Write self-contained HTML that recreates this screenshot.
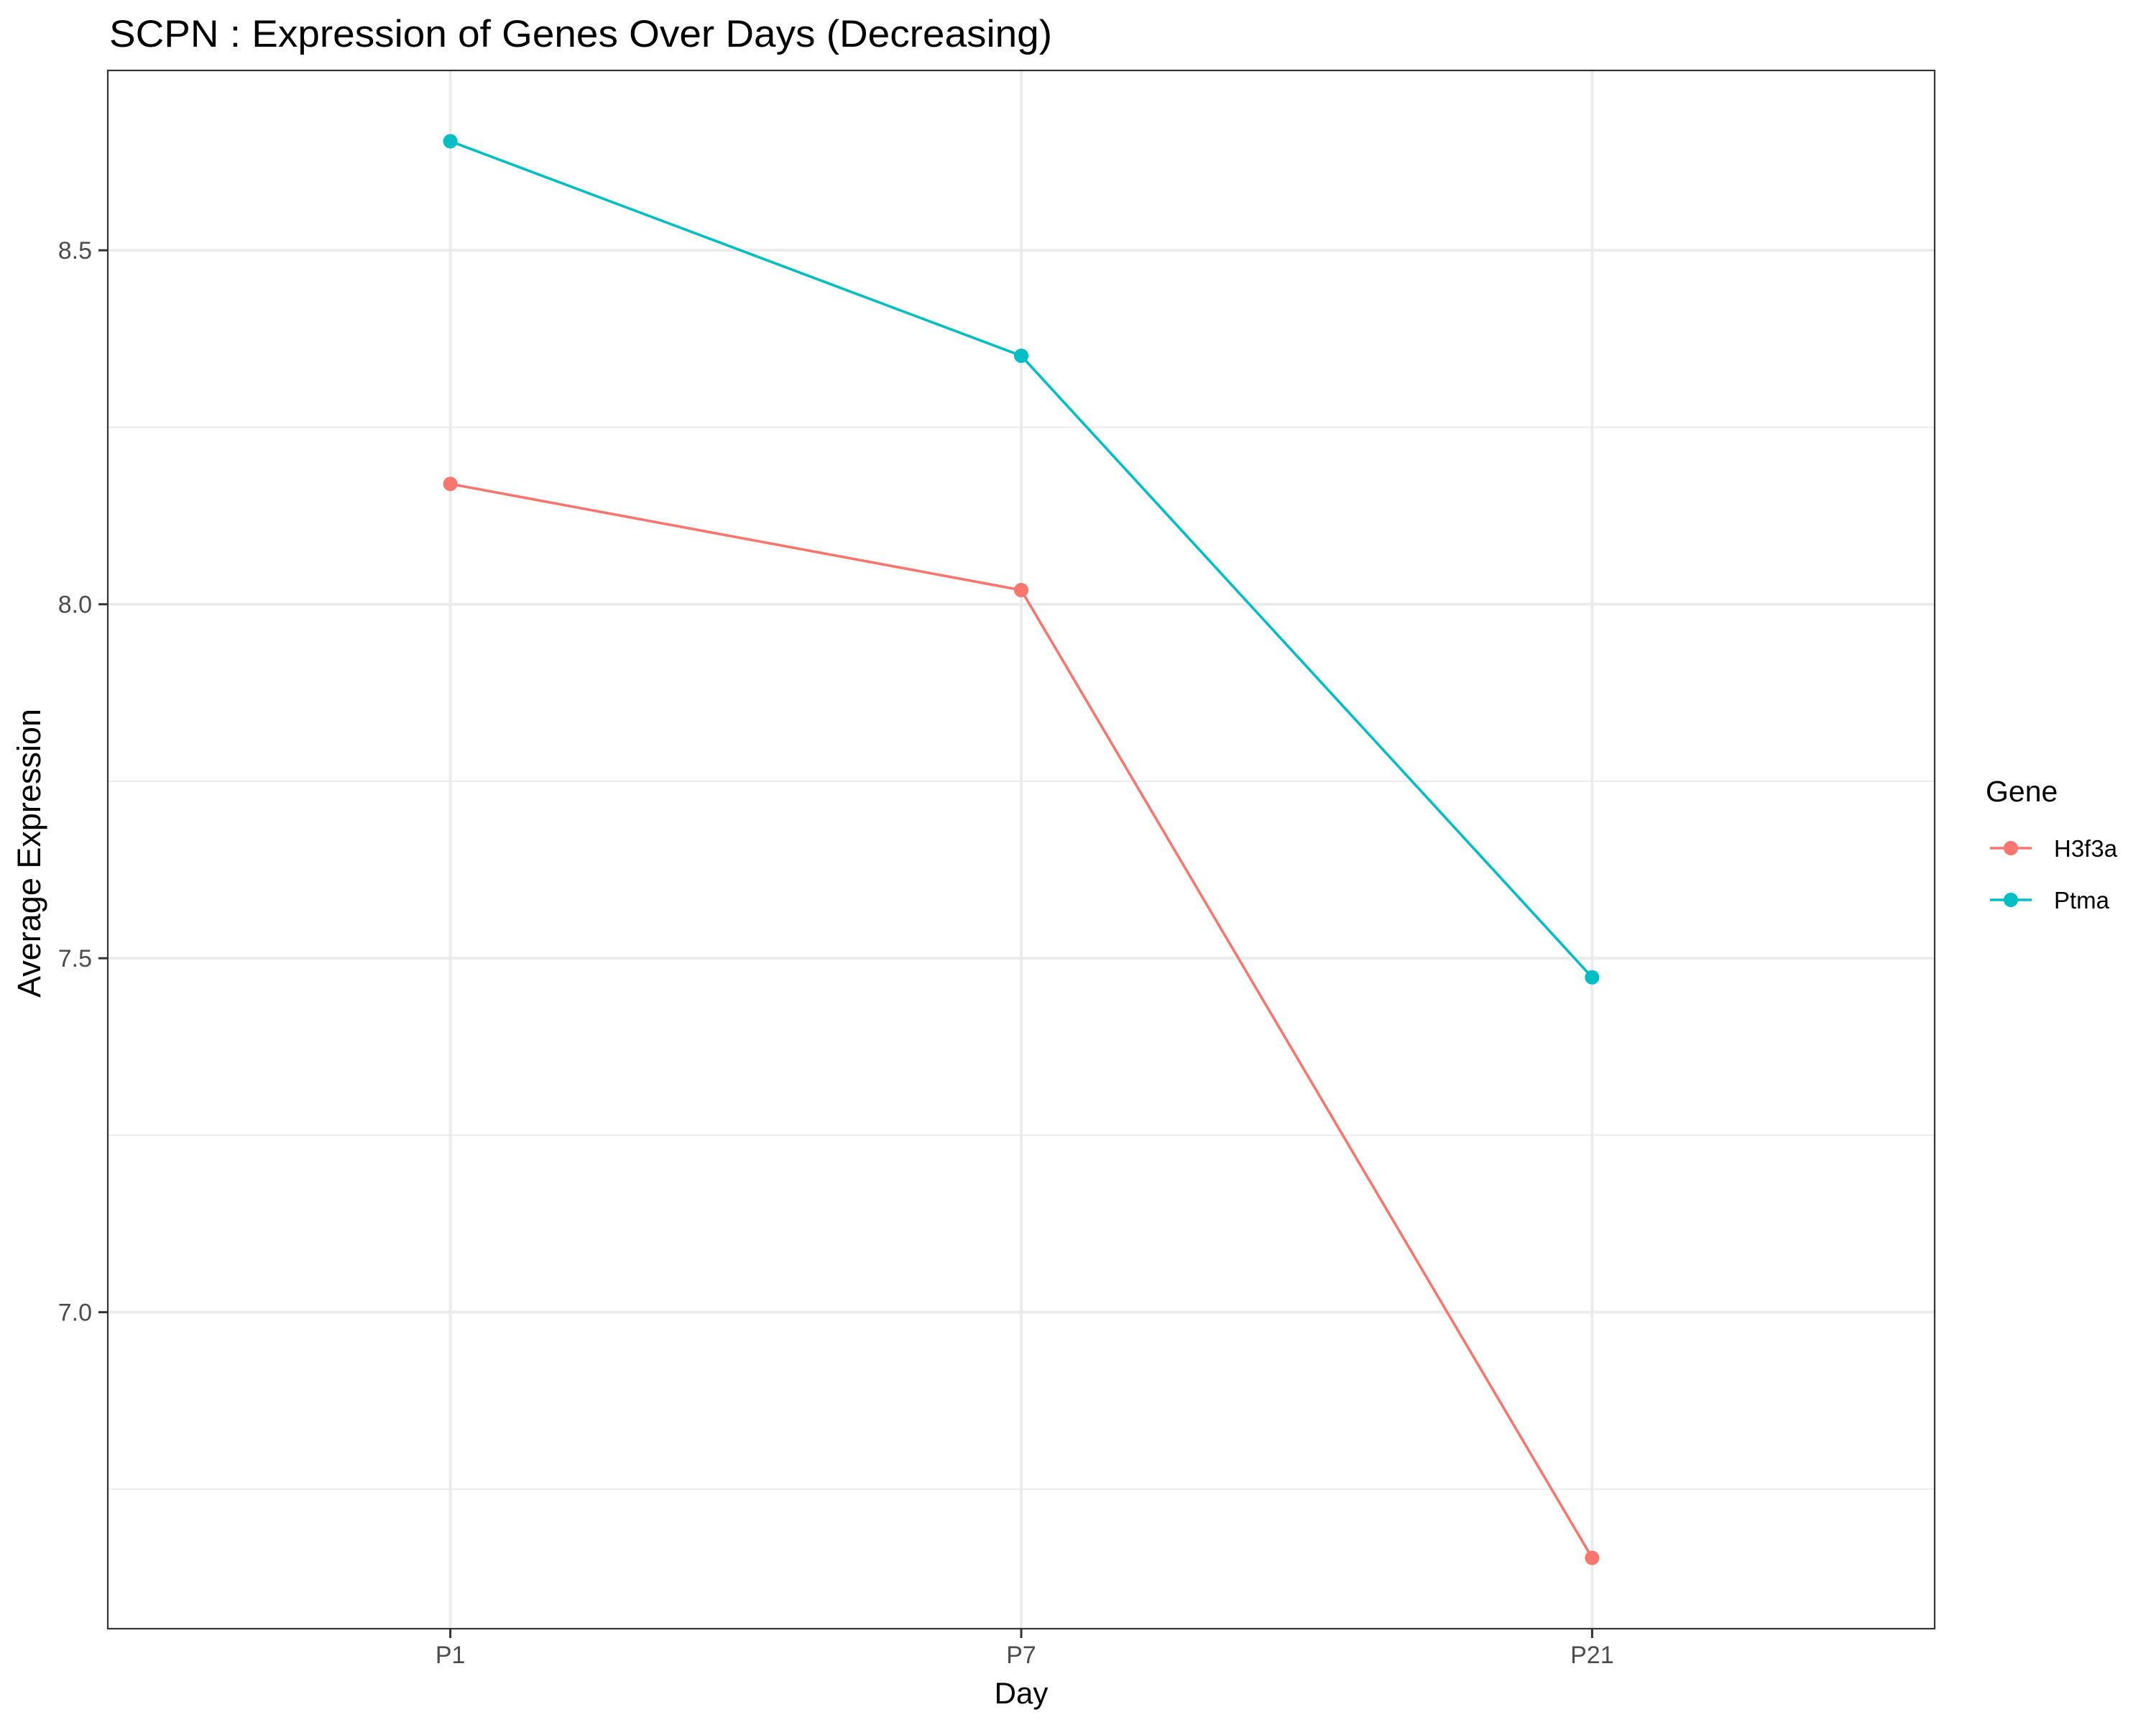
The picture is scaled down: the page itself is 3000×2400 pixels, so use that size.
<!DOCTYPE html>
<html><head><meta charset="utf-8"><style>
html,body{margin:0;padding:0;background:#fff;}
svg{display:block;font-family:"Liberation Sans",Arial,sans-serif;}
</style></head><body>
<svg id="chart" width="3000" height="2400" viewBox="0 0 3000 2400" xmlns="http://www.w3.org/2000/svg">
<rect x="0" y="0" width="3000" height="2400" fill="#fff"/>
<text x="152" y="65" font-size="53" textLength="1312" lengthAdjust="spacingAndGlyphs" fill="#000">SCPN : Expression of Genes Over Days (Decreasing)</text>
<g id="grid"></g>
<g id="series"></g>
<rect x="150" y="98" width="2542" height="2168" fill="none" stroke="#333" stroke-width="2.2"/>
<g id="axes"></g>
<text x="1421" y="2370" font-size="42" text-anchor="middle" fill="#000">Day</text>
<text transform="translate(56,1187) rotate(-90)" font-size="45" text-anchor="middle" fill="#000">Average Expression</text>
<g id="legend">
<text x="2763" y="1115" font-size="41" fill="#000">Gene</text>
</g>
</svg>
<script>
const categories = ["P1", "P7", "P21"];
const seriesNames = ["H3f3a", "Ptma"];
const h3f3aValues = [8.17, 8.02, 6.653];
const ptmaValues = [8.654, 8.351, 7.473];
const yTicks = [7.0, 7.5, 8.0, 8.5];
const yTickLabels = ["7.0", "7.5", "8.0", "8.5"];
const yMinorTicks = [6.75, 7.25, 7.75, 8.25];

const NS = "http://www.w3.org/2000/svg";
const colors = ["#F8766D", "#00BFC4"];
const L = 150, R = 2692, T = 98, B = 2266;
const allVals = h3f3aValues.concat(ptmaValues);
const vmin = Math.min(...allVals), vmax = Math.max(...allVals);
const pad = (vmax - vmin) * 0.05;
const yLo = vmin - pad, yHi = vmax + pad;
function yScale(v){ return B - (v - yLo) / (yHi - yLo) * (B - T); }
function xScale(i){ const n = categories.length; return L + (i + 0.6) / (n - 1 + 1.2) * (R - L); }
function mk(tag, attrs, parent){ const e = document.createElementNS(NS, tag); for (const k in attrs) e.setAttribute(k, attrs[k]); parent.appendChild(e); return e; }

const grid = document.getElementById("grid");
yMinorTicks.forEach(v => {
  const ln = mk("line", {x1:L, x2:R, y1:yScale(v), y2:yScale(v), stroke:"#ebebeb", "stroke-width":2}, grid);
  
  
});
yTicks.forEach(v => {
  const ln = mk("line", {x1:L, x2:R, y1:yScale(v), y2:yScale(v), stroke:"#ebebeb", "stroke-width":4}, grid);
  
  
});
categories.forEach((c, i) => {
  const ln = mk("line", {x1:xScale(i), x2:xScale(i), y1:T, y2:B, stroke:"#ebebeb", "stroke-width":4}, grid);
  
  
});

const axes = document.getElementById("axes");
yTicks.forEach((v, i) => {
  const t = mk("line", {x1:L-13, x2:L, y1:yScale(v), y2:yScale(v), stroke:"#333", "stroke-width":3}, axes);
  
  
  const tx = mk("text", {x:L-22, y:yScale(v)+12, "font-size":34, fill:"#4d4d4d", "text-anchor":"end"}, axes);
  tx.textContent = yTickLabels[i];
  
  
});
categories.forEach((c, i) => {
  const t = mk("line", {x1:xScale(i), x2:xScale(i), y1:B, y2:B+13, stroke:"#333", "stroke-width":3}, axes);
  
  
  const tx = mk("text", {x:xScale(i), y:2314, "font-size":34, fill:"#4d4d4d", "text-anchor":"middle"}, axes);
  tx.textContent = c;
  
  
});

const series = document.getElementById("series");
[h3f3aValues, ptmaValues].forEach((vals, s) => {
  const pts = vals.map((v, i) => xScale(i) + "," + yScale(v)).join(" ");
  const pl = mk("polyline", {points:pts, fill:"none", stroke:colors[s], "stroke-width":3.6}, series);
  
  
  vals.forEach((v, i) => {
    const c = mk("circle", {cx:xScale(i), cy:yScale(v), r:10, fill:colors[s]}, series);
    
    
  });
});

const legend = document.getElementById("legend");
seriesNames.forEach((n, s) => {
  const y = 1180 + s * 72;
  const g = mk("g", {}, legend);
  
  
  mk("line", {x1:2769, x2:2827, y1:y, y2:y, stroke:colors[s], "stroke-width":3.6}, g);
  mk("circle", {cx:2798, cy:y, r:10, fill:colors[s]}, g);
  const tx = mk("text", {x:2858, y:y+12, "font-size":33, fill:"#000"}, g);
  tx.textContent = n;
});
</script>
</body></html>
